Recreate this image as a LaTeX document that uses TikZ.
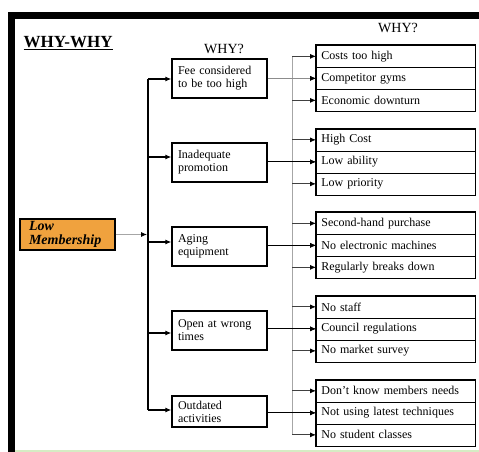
\documentclass[tikz,border=0pt]{standalone}
\usepackage{fontspec}
\setmainfont{Liberation Serif}
\usetikzlibrary{arrows.meta}
\definecolor{orangefill}{RGB}{240,162,62}
\definecolor{framegreen}{RGB}{214,236,196}
\begin{document}
\begin{tikzpicture}[x=1pt,y=-1pt,
  lvltwo/.style={draw, line width=1.3pt, minimum width=95pt, minimum height=39pt,
    text width=83pt, align=left, inner xsep=6pt, inner ysep=2pt,
    font=\fontsize{12}{13}\selectfont},
  rowbox/.style={draw, line width=0.7pt, minimum height=22pt,
    text width=149pt, inner xsep=5pt, inner ysep=0pt, align=left,
    font=\fontsize{12}{13}\selectfont, anchor=north west},
  grpbox/.style={draw, line width=1.4pt},
  stub/.style={-{Latex[length=6pt,width=5pt,color=black]}, line width=0.8pt, black!75},
  feed/.style={-{Latex[length=6pt,width=5pt,color=black]}, line width=1.1pt, black},
  trunkone/.style={line width=1.6pt, black},
  trunktwo/.style={line width=0.9pt, black!35},
  hdr/.style={anchor=base, font=\fontsize{14}{14}\selectfont}
]
\useasboundingbox (0,0) rectangle (479,452);
% frame
\fill[black] (8,12) rectangle (479,19);
\fill[black] (8,12) rectangle (15,452);
\draw[framegreen, line width=1.5pt] (15,451.2) -- (479,451.2);

% titles
\node[anchor=base west, font=\fontsize{17}{17}\bfseries\selectfont] (title) at (20,48) {\underline{WHY-WHY}};
\node[hdr] (whyone) at (224,53) {WHY?};
\node[hdr] (whytwo) at (398,33) {WHY?};

% root
\node[draw, line width=1.2pt, fill=orangefill, minimum width=95pt, minimum height=31pt,
  text width=81pt, inner xsep=7pt, inner ysep=1pt, align=left,
  font=\fontsize{14}{13.5}\bfseries\itshape\selectfont] (low) at (67.5,234.5) {\hspace*{2pt}Low\\\hspace*{2pt}Membership};

% level two
\node[lvltwo] (A) at (219.5,78.5) {Fee considered\\to be too high};
\node[lvltwo] (B) at (219.5,162.5) {Inadequate\\promotion};
\node[lvltwo] (C) at (219.5,246.5) {Aging\\equipment};
\node[lvltwo] (D) at (219.5,330.5) {Open at wrong\\times};
\node[lvltwo, minimum height=31pt] (E) at (219.5,411.5) {Outdated\\activities};

% level three
\node[rowbox] (a1) at (316,45) {Costs too high};
\node[rowbox] (a2) at (316,67) {Competitor gyms};
\node[rowbox] (a3) at (316,89) {Economic downturn};
\draw[grpbox] (a1.north west) rectangle (a3.south east);

\node[rowbox] (b1) at (316,128.5) {High Cost};
\node[rowbox] (b2) at (316,150.5) {Low ability};
\node[rowbox] (b3) at (316,172.5) {Low priority};
\draw[grpbox] (b1.north west) rectangle (b3.south east);

\node[rowbox] (c1) at (316,212) {Second-hand purchase};
\node[rowbox] (c2) at (316,234) {No electronic machines};
\node[rowbox] (c3) at (316,256) {Regularly breaks down};
\draw[grpbox] (c1.north west) rectangle (c3.south east);

\node[rowbox] (d1) at (316,295.5) {No staff};
\node[rowbox] (d2) at (316,317.5) {Council regulations};
\node[rowbox] (d3) at (316,339.5) {No market survey};
\draw[grpbox] (d1.north west) rectangle (d3.south east);

\node[rowbox] (e1) at (316,379.5) {Don't know members needs};
\node[rowbox] (e2) at (316,401.5) {Not using latest techniques};
\node[rowbox] (e3) at (316,423.5) {No student classes};
\draw[grpbox] (e1.north west) rectangle (e3.south east);

% trunk one
\coordinate (j1) at (148,79);
\coordinate (j2) at (148,157);
\coordinate (j3) at (148,242);
\coordinate (j4) at (148,333);
\coordinate (j5) at (148,410);
\coordinate (jroot) at (147,234.5);
\draw[trunkone] (j1) -- (j5);
\draw[-{Latex[length=6pt,width=5pt,color=black]}, line width=0.8pt, black!35] (low.east) -- (jroot);
\draw[feed] (j1) -- (j1 -| A.west);
\draw[feed] (j2) -- (j2 -| B.west);
\draw[feed] (j3) -- (j3 -| C.west);
\draw[feed] (j4) -- (j4 -| D.west);
\draw[feed] (j5) -- (j5 -| E.west);

% trunk two
\coordinate (k1) at (292,56);
\coordinate (k2) at (292,435);
\draw[trunktwo] (k1) -- (k2);
\foreach \r in {a1,a2,a3,b1,b2,b3,c1,c2,c3,d1,d2,d3,e1,e2,e3}{
  \draw[stub] (k1 |- \r.west) -- (\r.west);
}
% level two to middle rows
\draw[feed, black!45] (a2.west -| A.east) -- (a2.west);
\draw[feed] (b2.west -| B.east) -- (b2.west);
\draw[feed] (c2.west -| C.east) -- (c2.west);
\draw[feed] (d2.west -| D.east) -- (d2.west);
\draw[feed] (e2.west -| E.east) -- (e2.west);
\end{tikzpicture}
\end{document}
